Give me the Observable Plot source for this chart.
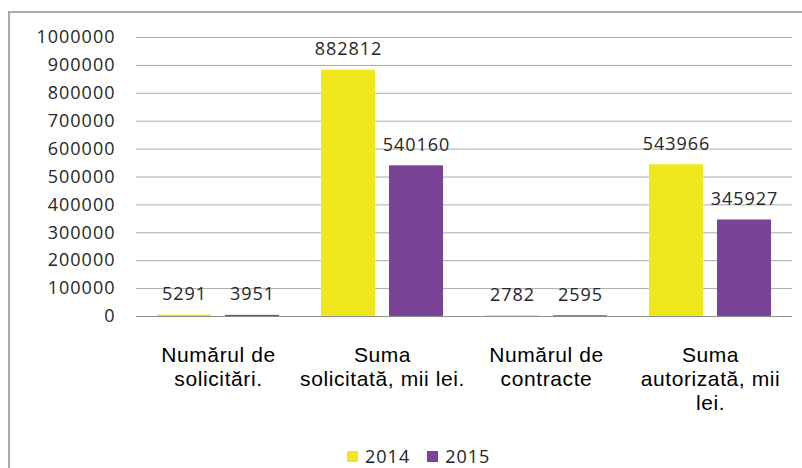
<!DOCTYPE html>
<html>
<head>
<meta charset="utf-8">
<script src="https://cdn.jsdelivr.net/npm/d3@7"></script>
<script src="https://cdn.jsdelivr.net/npm/@observablehq/plot@0.6"></script>
<style>
  html, body { margin: 0; padding: 0; background: #fff; }
  #wrap { position: relative; width: 802px; height: 468px; overflow: hidden; }
  #frame { position: absolute; left: 8px; top: 11px; width: 900px; height: 600px;
           border-left: 2px solid #a9a9a9; border-top: 2px solid #a9a9a9; box-sizing: border-box; }
  #chart { position: absolute; left: 0; top: 0; }
  #chart svg text { font-family: "Open Sans", sans-serif; letter-spacing: 1px; }
  #chart svg [aria-label^="fx-axis"] text { font-family: "Liberation Sans", Arial, sans-serif; letter-spacing: 0.6px; }
  #legend { position: absolute; left: 347px; top: 446px; display: flex; align-items: center;
            font-family: "Open Sans", sans-serif; font-size: 18px; letter-spacing: 1px; color: #222; line-height: 20px; }
  #legend .item { display: flex; align-items: center; margin-right: 17px; }
  #legend .sw { width: 11px; height: 11px; margin-right: 7px; }
</style>
</head>
<body>
<div id="wrap">
  <div id="frame"></div>
  <div id="chart"></div>
  <div id="legend"></div>
</div>
<script>
const categories = ["Numărul de\nsolicitări.", "Suma\nsolicitată, mii lei.", "Numărul de\ncontracte", "Suma\nautorizată, mii\nlei."];
const years = ["2014", "2015"];
const values2014 = [5291, 882812, 2782, 543966];
const values2015 = [3951, 540160, 2595, 345927];
const yTicks = [0, 100000, 200000, 300000, 400000, 500000, 600000, 700000, 800000, 900000, 1000000];
const colors = ["#f0e81c", "#7a4398"];

const data = categories.flatMap((c, i) => [
  {category: c, year: years[0], value: values2014[i]},
  {category: c, year: years[1], value: values2015[i]}
]);

const chart = Plot.plot({
  width: 802,
  height: 420,
  marginLeft: 135,
  marginRight: 9,
  marginTop: 37,
  marginBottom: 104,
  fx: {domain: categories, padding: 0, label: null},
  x: {domain: years, paddingInner: 0.203, paddingOuter: 0.2935, axis: null},
  y: {domain: [0, 1000000], axis: null},
  color: {domain: years, range: colors},
  marks: [
    Plot.ruleY(yTicks.filter(d => d > 0), {stroke: "#ababab", strokeWidth: 1}),
    Plot.barY(data, {fx: "category", x: "year", y: "value", fill: "year"}),
    Plot.ruleY([0], {stroke: "#8c8c8c", strokeWidth: 1}),
    Plot.text(data, {fx: "category", x: "year", y: "value", text: d => String(d.value),
      dy: -15, lineAnchor: "bottom", fontSize: 18, fill: "#262626"}),
    Plot.axisY({ticks: yTicks, tickFormat: d => String(d), tickSize: 0, tickPadding: 21,
      fontSize: 18, label: null, fill: "#262626"}),
    Plot.axisFx({anchor: "bottom", tickSize: 0, tickPadding: 28, lineAnchor: "top",
      fontSize: 21, lineHeight: 1.143, label: null, fill: "#000"})
  ]
});
document.getElementById("chart").appendChild(chart);

const legend = document.getElementById("legend");
years.forEach((y, i) => {
  const item = document.createElement("div");
  item.className = "item";
  const sw = document.createElement("span");
  sw.className = "sw";
  sw.style.background = colors[i];
  const t = document.createElement("span");
  t.textContent = y;
  item.appendChild(sw);
  item.appendChild(t);
  legend.appendChild(item);
});
</script>
</body>
</html>
